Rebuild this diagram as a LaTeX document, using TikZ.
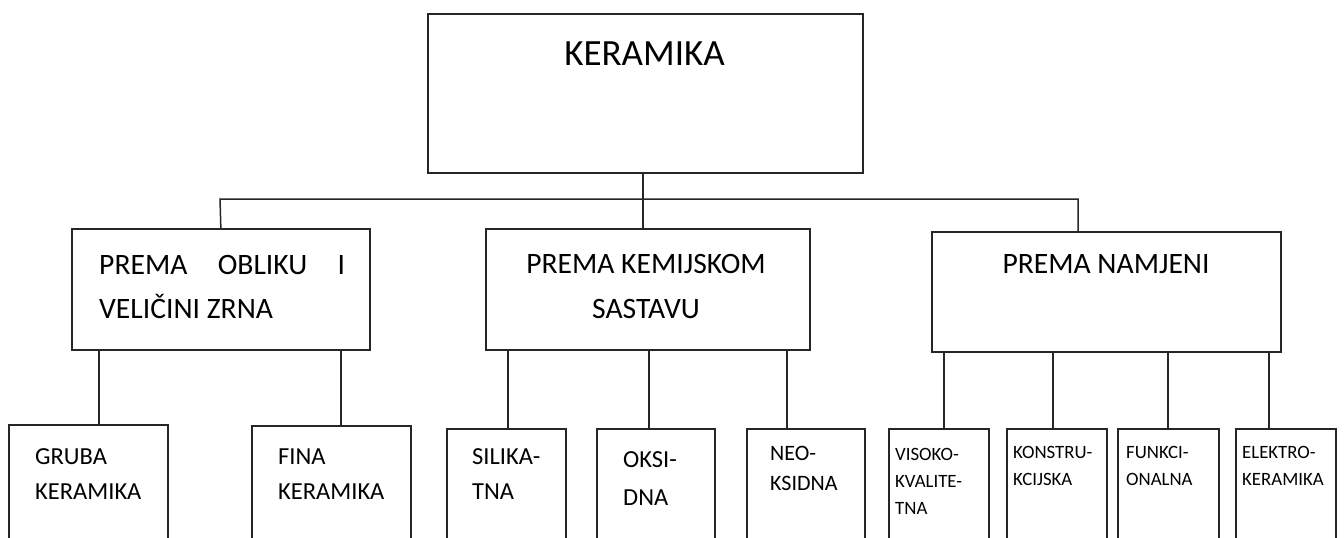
\documentclass[tikz,border=0pt]{standalone}
\usepackage{fontspec}
\setmainfont{Carlito}
\begin{document}
\begin{tikzpicture}[x=1pt,y=-1pt,
  box/.style={draw=black!85,line width=1.7pt,rectangle,inner sep=0pt,anchor=north west},
  conn/.style={draw=black!85,line width=1.5pt},
  txt/.style={inner sep=0pt,anchor=base west,text=black},
  ctxt/.style={inner sep=0pt,anchor=base,text=black},
  ft/.style={font=\fontsize{37}{44}\selectfont},
  fm/.style={font=\fontsize{29.6}{36}\selectfont},
  fs/.style={font=\fontsize{24.5}{30}\selectfont},
  fn/.style={font=\fontsize{22}{27}\selectfont},
  fx/.style={font=\fontsize{18.8}{23}\selectfont}]
\useasboundingbox (0,0) rectangle (1344,538);
\clip (0,0) rectangle (1344,538);
\fill[white] (0,0) rectangle (1344,538);
% top
\node[box,minimum width=435pt,minimum height=159pt] (top) at (427,13) {};
\node[ctxt,ft] (ttop) at (644.5,65) {KERAMIKA};
% level 2
\node[box,minimum width=298pt,minimum height=121pt] (b1) at (71,228) {};
\node[box,minimum width=324pt,minimum height=121pt] (b2) at (485,228) {};
\node[box,minimum width=349pt,minimum height=120pt] (b3) at (931,231) {};
\node[txt,fm] (t1a) at (99,274) {\makebox[246pt][s]{PREMA\hfill OBLIKU\hfill I}};
\node[txt,fm] (t1b) at (99,318) {VELIČINI ZRNA};
\node[ctxt,fm] (t2a) at (646,273) {PREMA KEMIJSKOM};
\node[ctxt,fm] (t2b) at (646,318) {SASTAVU};
\node[ctxt,fm] (t3a) at (1106,273) {PREMA NAMJENI};
% level 3
\node[box,minimum width=159pt,minimum height=150pt] (c1) at (8,424) {};
\node[box,minimum width=159pt,minimum height=150pt] (c2) at (251,425) {};
\node[box,minimum width=119pt,minimum height=150pt] (c3) at (446,428) {};
\node[box,minimum width=118pt,minimum height=150pt] (c4) at (596,428) {};
\node[box,minimum width=118pt,minimum height=150pt] (c5) at (746,428) {};
\node[box,minimum width=100pt,minimum height=150pt] (c6) at (888,428) {};
\node[box,minimum width=100pt,minimum height=150pt] (c7) at (1006,428) {};
\node[box,minimum width=101pt,minimum height=150pt] (c8) at (1117,428) {};
\node[box,minimum width=100pt,minimum height=150pt] (c9) at (1235,428) {};
\node[txt,fs] (u1a) at (35,464) {GRUBA};
\node[txt,fs] (u1b) at (35,499) {KERAMIKA};
\node[txt,fs] (u2a) at (278,464) {FINA};
\node[txt,fs] (u2b) at (278,499) {KERAMIKA};
\node[txt,fs] (u3a) at (472,464) {SILIKA-};
\node[txt,fs] (u3b) at (472,499) {TNA};
\node[txt,fs] (u4a) at (623,467) {OKSI-};
\node[txt,fs] (u4b) at (623,505) {DNA};
\node[txt,fn] (u5a) at (770,460) {NEO-};
\node[txt,fn] (u5b) at (770,490) {KSIDNA};
\node[txt,fx] (u6a) at (895,460) {VISOKO-};
\node[txt,fx] (u6b) at (895,487) {KVALITE-};
\node[txt,fx] (u6c) at (895,514) {TNA};
\node[txt,fx] (u7a) at (1013,458) {KONSTRU-};
\node[txt,fx] (u7b) at (1013,485) {KCIJSKA};
\node[txt,fx] (u8a) at (1126,458) {FUNKCI-};
\node[txt,fx] (u8b) at (1126,485) {ONALNA};
\node[txt,fx] (u9a) at (1242,458) {ELEKTRO-};
\node[txt,fx] (u9b) at (1242,485) {KERAMIKA};
% connectors
\coordinate (busL) at (220,199);
\coordinate (busR) at (1078,199);
\draw[conn] (643,0 |- top.south) -- (643,0 |- b2.north);
\draw[conn] (b1.north) -- (busL) -- (busR) -- (busR |- b3.north);
\draw[conn] (99,0 |- b1.south) -- (99,0 |- c1.north);
\draw[conn] (341,0 |- b1.south) -- (341,0 |- c2.north);
\draw[conn] (508,0 |- b2.south) -- (508,0 |- c3.north);
\draw[conn] (649,0 |- b2.south) -- (649,0 |- c4.north);
\draw[conn] (787,0 |- b2.south) -- (787,0 |- c5.north);
\draw[conn] (944,0 |- b3.south) -- (944,0 |- c6.north);
\draw[conn] (1053,0 |- b3.south) -- (1053,0 |- c7.north);
\draw[conn] (1168,0 |- b3.south) -- (1168,0 |- c8.north);
\draw[conn] (1269,0 |- b3.south) -- (1269,0 |- c9.north);
\end{tikzpicture}
\end{document}
